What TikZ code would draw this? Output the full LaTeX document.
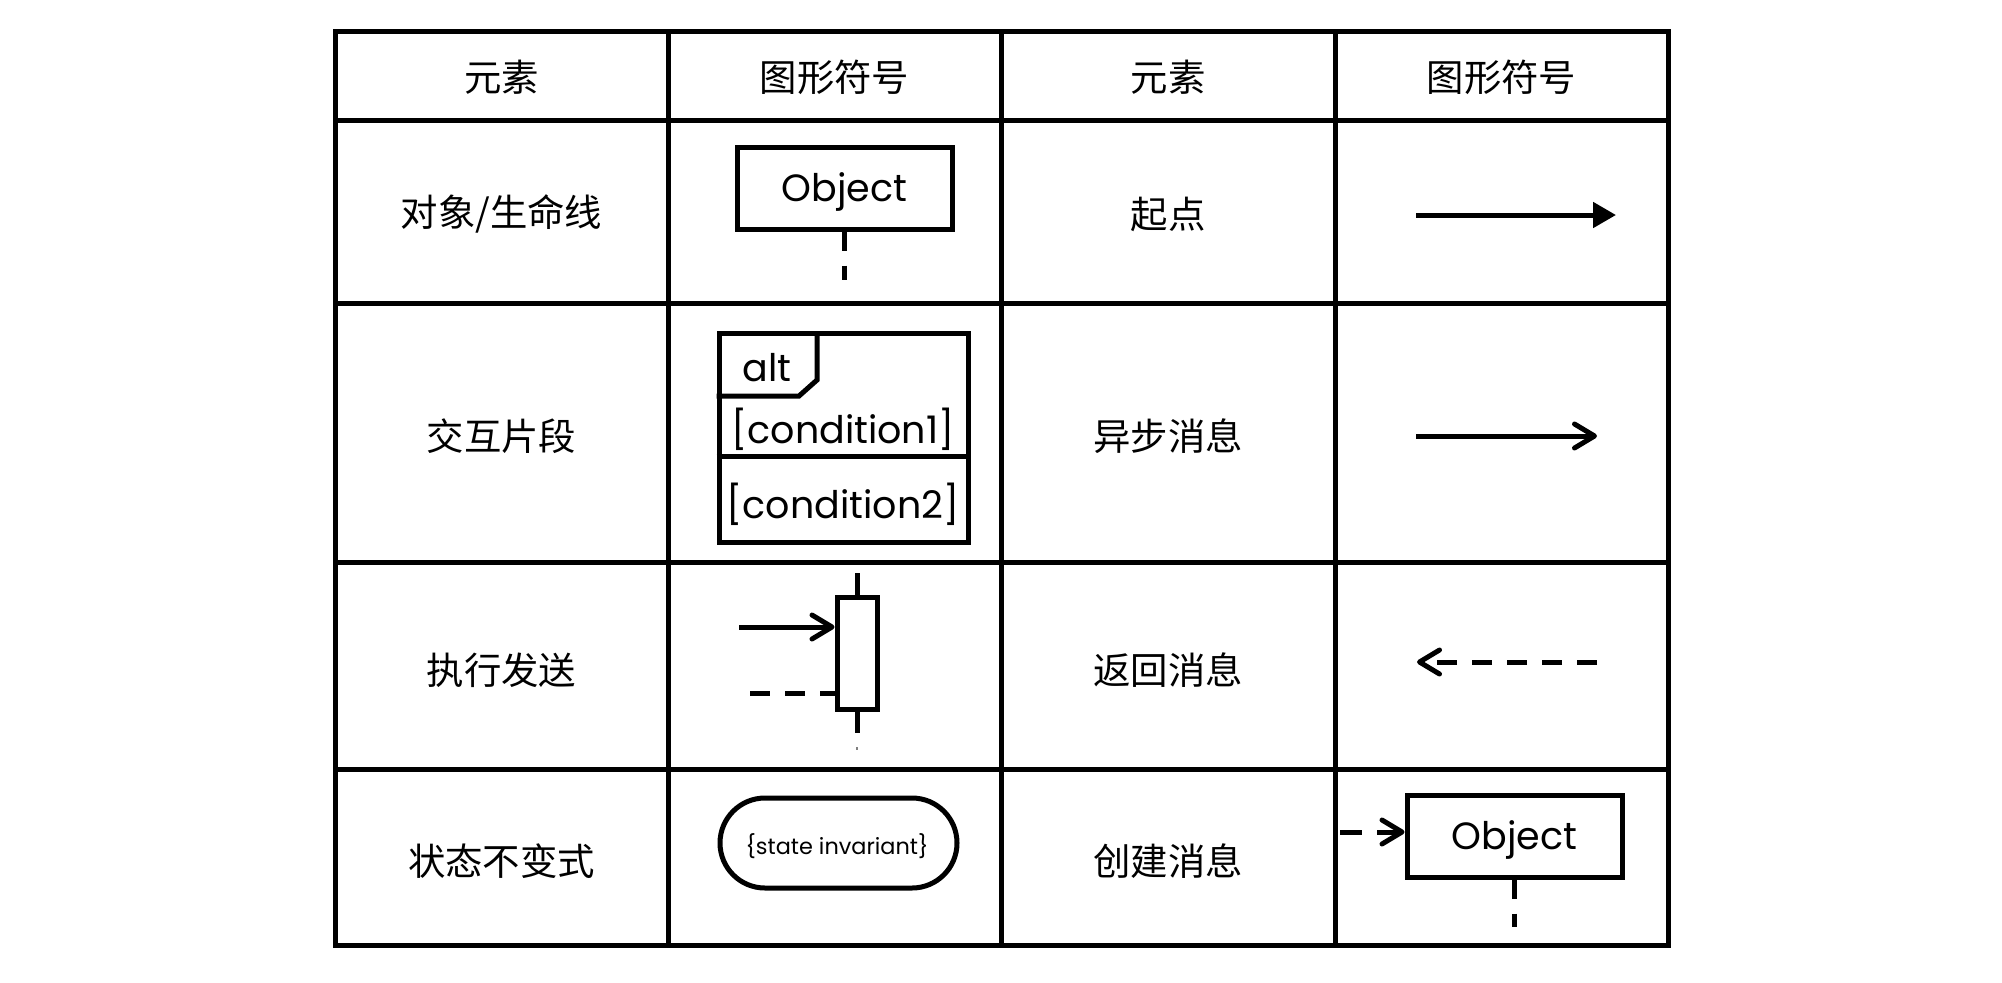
\documentclass[tikz,border=0pt]{standalone}
\usepackage{fontspec}
\setmainfont{Poppins}
\newfontfamily\cjk{Noto Sans CJK SC}
\usetikzlibrary{arrows.meta}
\begin{document}
\begin{tikzpicture}[x=0.5pt,y=-0.5pt,
  grid/.style={line width=2.5pt,line cap=rect},
  sl/.style={line width=2.5pt},
  cell/.style={font=\cjk\fontsize{18.7pt}{22pt}\selectfont,inner sep=0pt},
  lbl/.style={font=\fontsize{19pt}{22pt}\selectfont,inner sep=0pt},
  small/.style={font=\fontsize{11.2pt}{14pt}\selectfont,inner sep=0pt},
  objbox/.style={draw,sl,fill=white,minimum width=107.5pt,minimum height=41pt,inner sep=0pt,text height=13.5pt,text depth=0pt,font=\fontsize{19pt}{22pt}\selectfont},
  life/.style={sl,dash pattern=on 9.5pt off 7.5pt},
  openhead/.style={-{Straight Barb[length=10pt,width=12pt,round]}},
  dash2/.style={dash pattern=on 10pt off 7.5pt},
]
\useasboundingbox (0,0) rectangle (2002,982);
% table
\draw[grid] (335,31) rectangle (1668,945);
\foreach \x in {668,1001,1335} \draw[grid] (\x,31) -- (\x,945);
\foreach \y in {120,303,562,769} \draw[grid] (335,\y) -- (1668,\y);
% text cells
\node[cell] (h1) at (501.5,77) {元素};
\node[cell] (h2) at (834.5,77) {图形符号};
\node[cell] (h3) at (1168,77) {元素};
\node[cell] (h4) at (1501.5,77) {图形符号};
\node[cell] (e1) at (501.5,214) {对象/生命线};
\node[cell] (e2) at (501.5,436) {交互片段};
\node[cell] (e3) at (501.5,670) {执行发送};
\node[cell] (e4) at (501.5,861) {状态不变式};
\node[cell] (f1) at (1168,214) {起点};
\node[cell] (f2) at (1168,436) {异步消息};
\node[cell] (f3) at (1168,670) {返回消息};
\node[cell] (f4) at (1168,861) {创建消息};
% object / lifeline
\node[objbox] (o1) at (844.5,188) {Object};
\coordinate (o1end) at (844.5,280);
\draw[life] (o1.south) -- (o1end);
% alt fragment
\node[draw,sl,minimum width=124.5pt,minimum height=104.5pt,inner sep=0pt] (alt) at (843.5,437.5) {};
\draw[sl] (alt.north west |- 0,396) -- (799,396) -- (817,380) -- (817,333);
\draw[sl] (alt.west |- 0,456) -- (alt.east |- 0,456);
\node[lbl] (altl) at (767,368) {alt};
\node[lbl] (c1) at (843,429) {[condition1]};
\node[lbl] (c2) at (843,504) {[condition2]};
% execution
\node[draw,sl,fill=white,minimum width=20pt,minimum height=56pt,inner sep=0pt] (act) at (857,653) {};
\coordinate (lt) at (857,573);
\coordinate (lb) at (857,733);
\coordinate (ld1) at (857,747);
\coordinate (ld2) at (857,750);
\draw[sl] (lt) -- (act.north);
\draw[sl] (act.south) -- (lb);
\draw[line width=1pt,gray] (ld1) -- (ld2);
\coordinate (ain) at (739,627);
\draw[sl,openhead] (ain) -- (act.west |- ain);
\coordinate (aret) at (750,693);
\draw[sl,dash2] (aret) -- (act.west |- aret);
% state invariant
\node[draw,sl,rounded corners=22.5pt,minimum width=118.5pt,minimum height=45pt,inner sep=0pt] (si) at (838.5,843) {};
\node[small] (sit) at (837,846) {\{state invariant\}};
% sync
\coordinate (s1) at (1416,215);
\coordinate (s2) at (1616,215);
\draw[sl,-{Triangle[length=11.5pt,width=12.5pt]}] (s1) -- (s2);
% async
\coordinate (a1) at (1416,436);
\coordinate (a2) at (1597,436);
\draw[sl,openhead] (a1) -- (a2);
% return
\coordinate (r1) at (1597,662);
\coordinate (r2) at (1417,662);
\draw[sl,dash2,openhead] (r1) -- (r2);
% create
\node[objbox] (o2) at (1514.5,836) {Object};
\coordinate (cs) at (1340,832);
\draw[sl,dash pattern=on 11pt off 7.5pt,openhead] (cs) -- (o2.west |- cs);
\coordinate (o2end) at (1514.5,927);
\draw[life] (o2.south) -- (o2end);
\end{tikzpicture}
\end{document}
